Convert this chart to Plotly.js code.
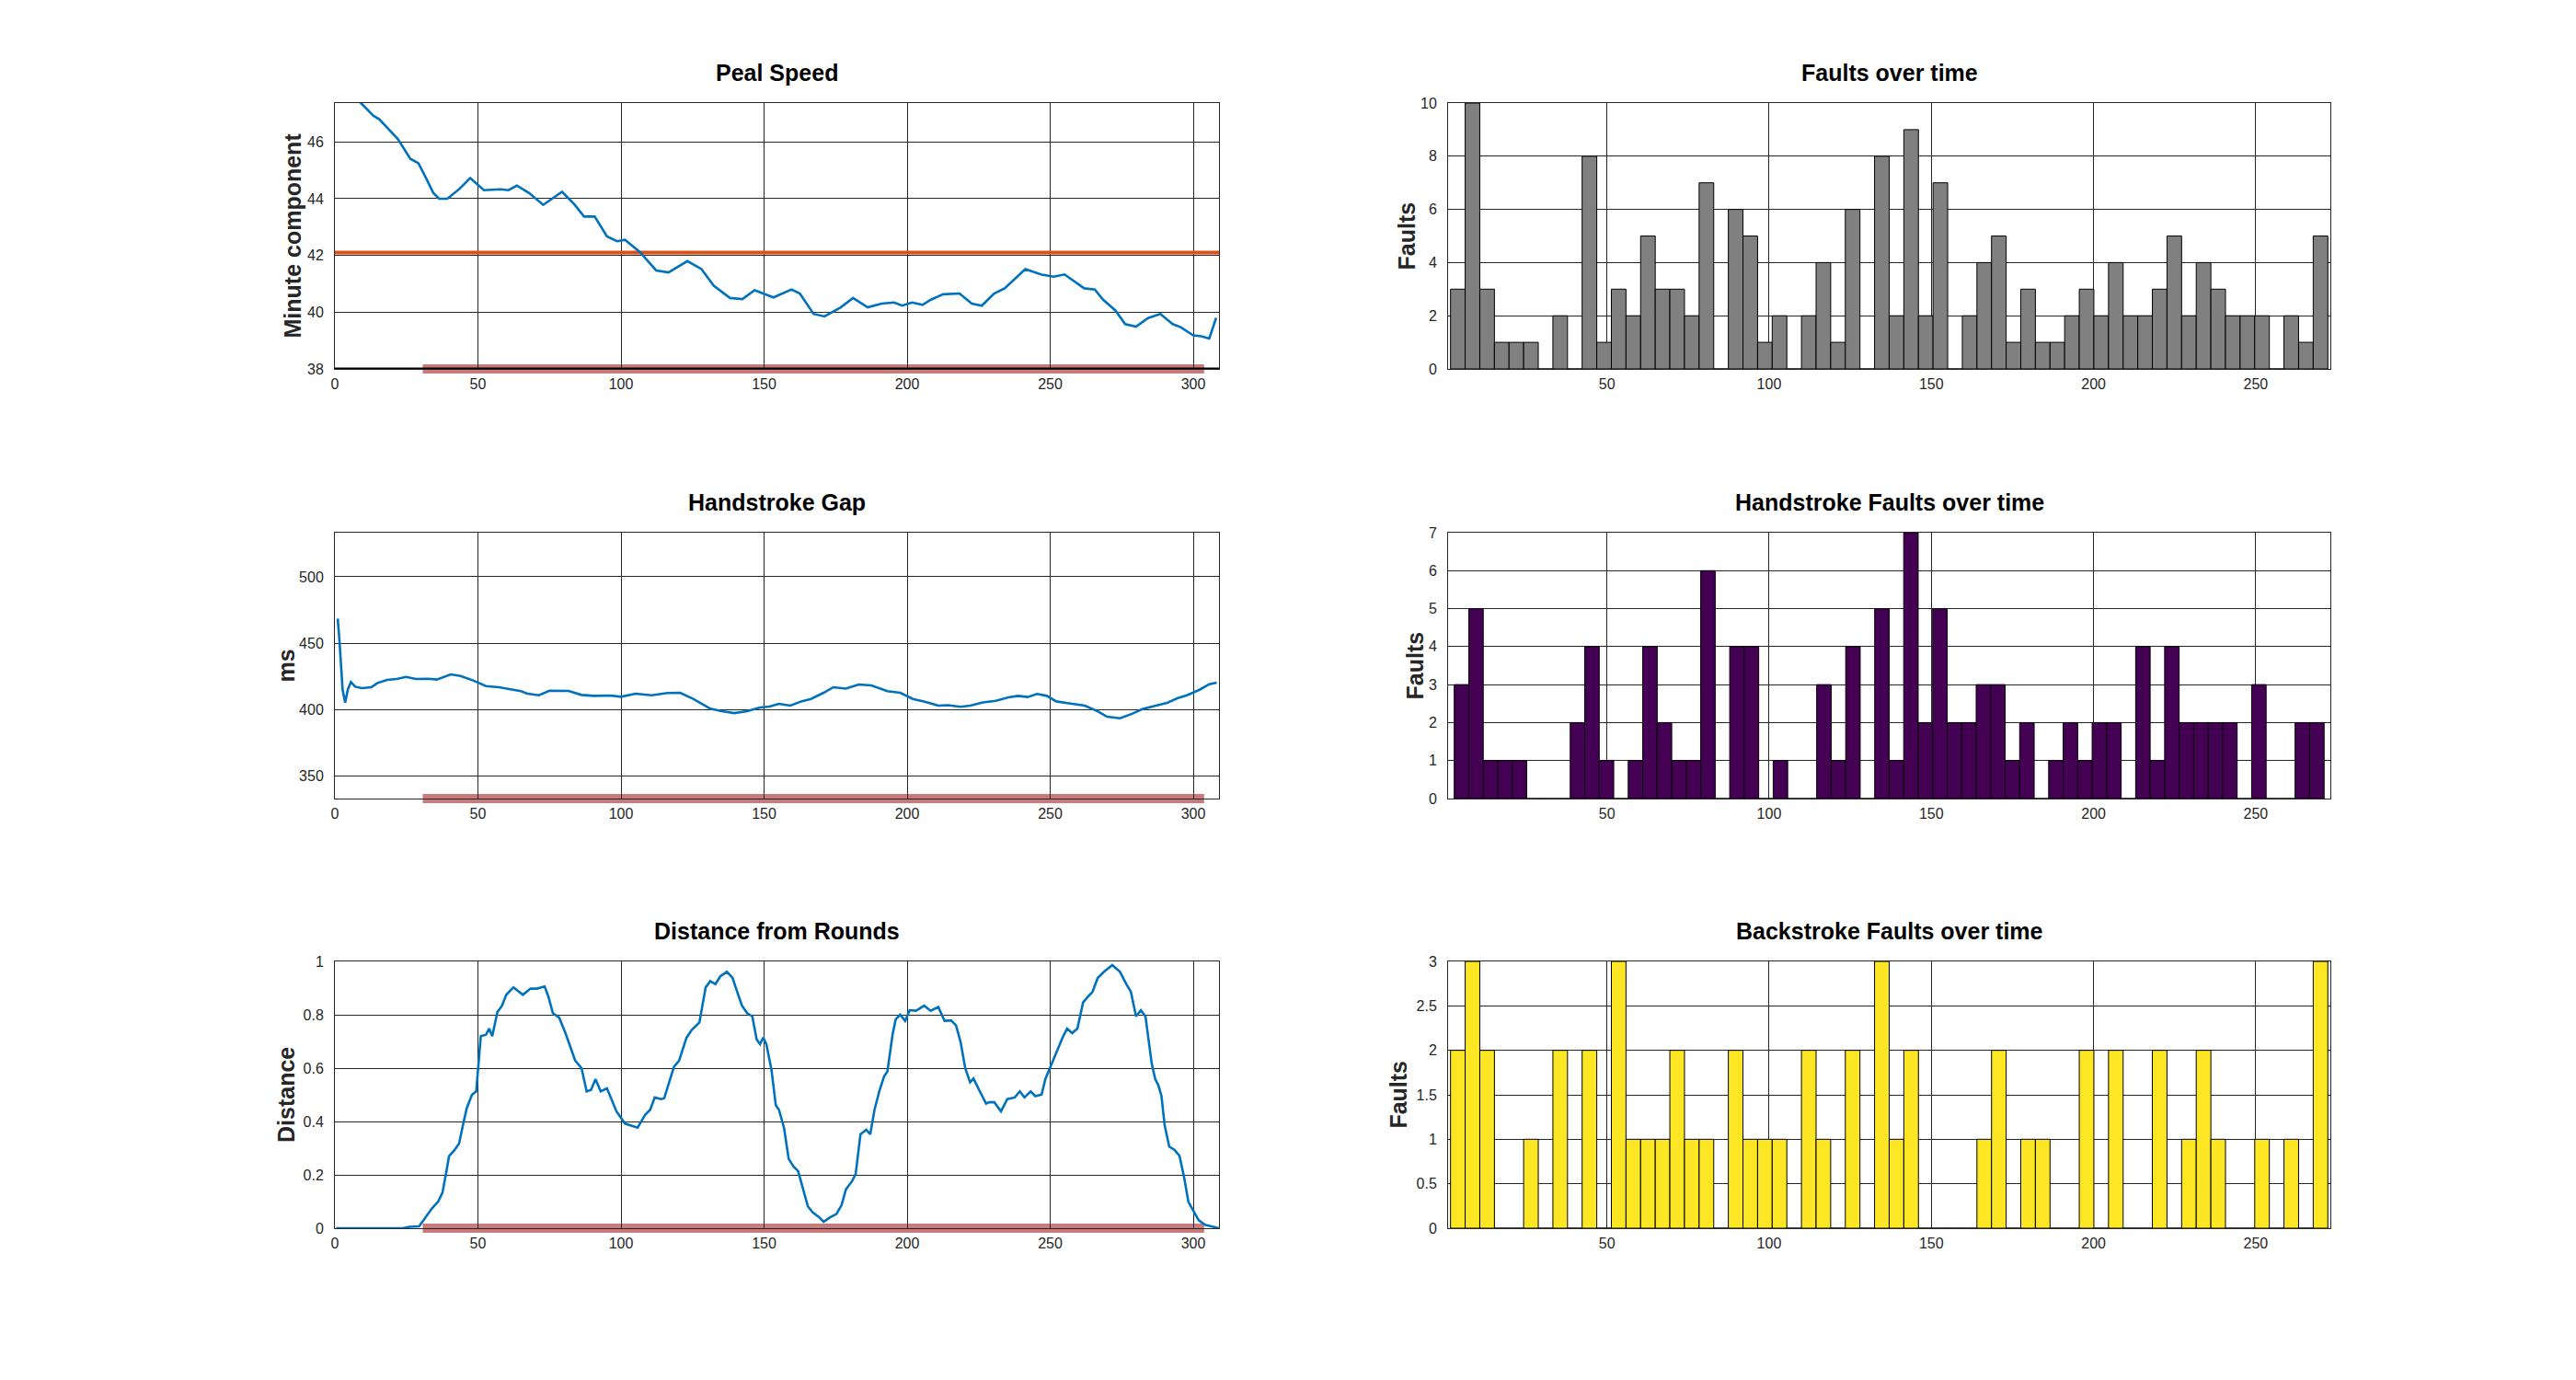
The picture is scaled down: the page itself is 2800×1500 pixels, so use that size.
<!DOCTYPE html>
<html>
<head>
<meta charset="utf-8">
<script src="https://cdn.plot.ly/plotly-3.0.1.min.js"></script>
<style>
html,body{margin:0;padding:0;background:#fff;}
#chart{width:2800px;height:1500px;}
</style>
</head>
<body>
<div id="chart"></div>
<script>
// ---------- Data ----------
const pealX = [1, 9.2, 13.5, 15.5, 22, 26.4, 29.2, 32, 34.4, 36.4,
  39.3, 43.6, 47.3, 52.1, 57.9, 60.7, 63.6, 67.9, 72.8, 79.4,
  83.7, 87.1, 90.8, 95.1, 98.6, 101.4, 106.6, 112.3, 116.6, 123.2,
  128.1, 132.4, 138.1, 142.4, 146.7, 153.3, 159.6, 162.5, 167.3, 171.1,
  176.8, 181.1, 186.2, 191.1, 195.4, 198.3, 201.7, 205.4, 208.3, 212.6,
  218.3, 222.6, 226.1, 230.4, 234.1, 241.3, 247, 251.3, 255, 261.9,
  265.6, 268.5, 272.8, 276.2, 280, 284.2, 288.5, 292.8, 295.6, 300,
  302.8, 305.6, 308];
const pealY = [48.2, 47.35, 46.92, 46.8, 46.1, 45.4, 45.25, 44.7, 44.2, 44.0,
  44.0, 44.35, 44.73, 44.3, 44.33, 44.3, 44.46, 44.2, 43.78, 44.24,
  43.8, 43.37, 43.37, 42.67, 42.5, 42.55, 42.12, 41.47, 41.4, 41.8,
  41.52, 40.93, 40.5, 40.46, 40.77, 40.52, 40.8, 40.66, 39.94, 39.85,
  40.17, 40.5, 40.17, 40.3, 40.34, 40.23, 40.34, 40.26, 40.44, 40.63,
  40.66, 40.3, 40.23, 40.66, 40.84, 41.52, 41.32, 41.25, 41.33, 40.84,
  40.8, 40.44, 40.06, 39.58, 39.49, 39.79, 39.94, 39.58, 39.47, 39.18,
  39.15, 39.07, 39.8];
const pealTarget = 42.1;
const pealBase = 38;

const handX = [1, 1.6, 2.7, 3.6, 4.5, 5.6, 7.1, 9.4, 12.7, 14.9,
  18.3, 21.6, 24.9, 28.3, 32.7, 35.6, 40.5, 43.9, 48.3, 52.8,
  57.4, 61.7, 65, 67.3, 71.3, 75, 81.7, 86.2, 90.6, 96.2,
  100, 105.1, 110.7, 116.3, 120.7, 125.2, 131.2, 135.2, 139.6, 144.1,
  148.6, 151.9, 155.2, 159.2, 163, 166.4, 170.8, 174.2, 178.6, 183.1,
  187.5, 193.1, 197.6, 202, 206.5, 210.9, 214.2, 218.7, 222, 226.5,
  231, 235.4, 238.8, 242.1, 245.4, 248.8, 252.1, 256.6, 262.1, 266.6,
  269.9, 274.4, 278.8, 282.2, 286.6, 291.1, 294.4, 297.8, 302.2, 305.6,
  308.2];
const handY = [468.5, 451.9, 414.8, 405.1, 414.8, 420.6, 417.1, 416, 416.7, 419.9,
  422.2, 422.9, 424.5, 422.9, 423.1, 422.5, 426.4, 425.2, 421.8, 417.6,
  416.7, 414.8, 413.7, 411.8, 410.6, 414.1, 413.9, 410.9, 410.2, 410.4,
  409.5, 411.8, 410.6, 412.3, 412.5, 407.9, 400.5, 398.6, 397.2, 398.6,
  401.4, 402.1, 404.2, 402.8, 406, 407.9, 412.5, 416.7, 415.7, 418.8,
  418.1, 413.7, 412.5, 407.9, 405.6, 402.8, 403.2, 401.9, 402.8, 405.3,
  406.5, 409, 410.2, 409.3, 411.6, 410.2, 406, 404.6, 402.8, 398.6,
  394.4, 393.3, 396.8, 400.2, 402.8, 405.1, 408.3, 410.6, 414.8, 419,
  420.1];

const distX = [0.4, 23.8, 26, 29.4, 31, 33.9, 36.1, 37.6, 39, 39.9,
  41.6, 43.4, 45, 46.1, 47.9, 49.4, 51, 52.8, 53.9, 55,
  56.8, 58.4, 59.9, 62.4, 65.7, 68.4, 70.6, 73.3, 74.6, 76.2,
  78.4, 80.6, 84, 86.2, 88, 89.5, 91.1, 92.9, 95.1, 96.9,
  98.4, 101.4, 104, 105.8, 108.5, 110.2, 111.8, 114, 115.1, 118.5,
  120.3, 122.9, 124.7, 126.3, 127.4, 129.6, 131.2, 133, 134.7, 137,
  139, 140.8, 142.3, 144.1, 145.9, 147.4, 148.6, 149.7, 150.8, 152.6,
  154.1, 155.2, 157, 158.6, 160.3, 161.9, 163.7, 165.3, 167, 169.3,
  170.8, 173.1, 175.3, 177.1, 178.6, 180.8, 182, 183.7, 185.7, 187.1,
  188.6, 190.4, 192, 193.1, 194.9, 196, 197.6, 199.3, 200.9, 203.1,
  206, 208.2, 210.9, 213.1, 215.4, 217.1, 218.7, 220.3, 222, 223.2,
  225.4, 227.6, 228.7, 230.5, 232.8, 235, 237.6, 239.4, 241, 243.2,
  244.8, 247, 248.3, 249.9, 252.1, 254.3, 255.9, 257.7, 259.5, 261.5,
  263.3, 264.8, 266.6, 268.8, 271.7, 274.4, 276.6, 278.2, 280, 281.7,
  283.3, 284.4, 285.5, 286.7, 287.8, 288.9, 290, 291.6, 293.4, 295.2,
  296.8, 298.3, 300.1, 301.9, 304.1, 306.7, 308.9];
const distY = [0, 0, 0.005, 0.007, 0.03, 0.074, 0.1, 0.133, 0.214, 0.27,
  0.29, 0.317, 0.398, 0.45, 0.5, 0.513, 0.72, 0.725, 0.748, 0.72,
  0.81, 0.834, 0.875, 0.903, 0.875, 0.898, 0.898, 0.906, 0.869, 0.806,
  0.789, 0.731, 0.628, 0.6, 0.513, 0.518, 0.559, 0.513, 0.524, 0.478,
  0.438, 0.392, 0.384, 0.377, 0.426, 0.444, 0.49, 0.484, 0.487, 0.605,
  0.628, 0.714, 0.743, 0.76, 0.771, 0.903, 0.926, 0.915, 0.944, 0.961,
  0.938, 0.88, 0.834, 0.806, 0.794, 0.708, 0.69, 0.714, 0.69, 0.593,
  0.461, 0.444, 0.375, 0.26, 0.231, 0.214, 0.145, 0.082, 0.059, 0.041,
  0.024, 0.041, 0.053, 0.087, 0.145, 0.177, 0.202, 0.352, 0.369, 0.352,
  0.444, 0.518, 0.57, 0.587, 0.725, 0.783, 0.8, 0.777, 0.817, 0.815,
  0.834, 0.815, 0.829, 0.777, 0.779, 0.76, 0.697, 0.6, 0.547, 0.561,
  0.513, 0.467, 0.472, 0.472, 0.438, 0.484, 0.49, 0.513, 0.49, 0.513,
  0.495, 0.501, 0.559, 0.6, 0.662, 0.714, 0.748, 0.731, 0.748, 0.846,
  0.869, 0.886, 0.938, 0.961, 0.986, 0.961, 0.915, 0.886, 0.794, 0.817,
  0.794, 0.708, 0.616, 0.559, 0.536, 0.495, 0.386, 0.306, 0.294, 0.271,
  0.191, 0.099, 0.064, 0.03, 0.013, 0.005, 0];

// highlighted span shown as a band on the x axis of the line plots
const bandRange = [30.7, 303.8];

// histogram counts (60 bins each)
const faultCounts = [3, 10, 3, 1, 1, 1, 0, 2, 0, 8,
  1, 3, 2, 5, 3, 3, 2, 7, 0, 6,
  5, 1, 2, 0, 2, 4, 1, 6, 0, 8,
  2, 9, 2, 7, 0, 2, 4, 5, 1, 3,
  1, 1, 2, 3, 2, 4, 2, 2, 3, 5,
  2, 4, 3, 2, 2, 2, 0, 2, 1, 5];
const handFaultCounts = [3, 5, 1, 1, 1, 0, 0, 0, 2, 4,
  1, 0, 1, 4, 2, 1, 1, 6, 0, 4,
  4, 0, 1, 0, 0, 3, 1, 4, 0, 5,
  1, 7, 2, 5, 2, 2, 3, 3, 1, 2,
  0, 1, 2, 1, 2, 2, 0, 4, 1, 4,
  2, 2, 2, 2, 0, 3, 0, 0, 2, 2];
const backFaultCounts = [2, 3, 2, 0, 0, 1, 0, 2, 0, 2,
  0, 3, 1, 1, 1, 2, 1, 1, 0, 2,
  1, 1, 1, 0, 2, 1, 0, 2, 0, 3,
  1, 2, 0, 0, 0, 0, 1, 2, 0, 1,
  1, 0, 0, 2, 0, 2, 0, 0, 2, 0,
  1, 2, 1, 0, 0, 1, 0, 1, 0, 3];
// histogram bin edges (first edge, bin width)
const faultBins = {start: 1.80, width: 4.507};
const handBins = {start: 2.94, width: 4.469};

// tick labels
const lineXTicks = [0, 50, 100, 150, 200, 250, 300];
const barXTicks = [50, 100, 150, 200, 250];
const pealYTicks = [38, 40, 42, 44, 46];
const handYTicks = [350, 400, 450, 500];
const distYTicks = [0, 0.2, 0.4, 0.6, 0.8, 1];
const faultYTicks = [0, 2, 4, 6, 8, 10];
const handFaultYTicks = [0, 1, 2, 3, 4, 5, 6, 7];
const backFaultYTicks = [0, 0.5, 1, 1.5, 2, 2.5, 3];

const titles = ['Peal Speed', 'Faults over time', 'Handstroke Gap',
  'Handstroke Faults over time', 'Distance from Rounds', 'Backstroke Faults over time'];
const yLabels = ['Minute component', 'Faults', 'ms', 'Faults', 'Distance', 'Faults'];

// ---------- Helpers ----------
function binCenters(bins, n) {
  const c = [];
  for (let i = 0; i < n; i++) c.push(bins.start + bins.width * (i + 0.5));
  return c;
}

const W = 2800, H = 1500;
const colL = [364 / W, 1325 / W];
const colR = [1574 / W, 2533 / W];
const rows = [[1 - 401 / H, 1 - 112 / H], [1 - 868 / H, 1 - 579 / H], [1 - 1335 / H, 1 - 1045 / H]];

const FONT = 'Liberation Sans, Arial, Helvetica, sans-serif';
const dark = '#262626';
const blue = '#0072BD';

const axBase = {
  showline: true, mirror: true, linecolor: dark, linewidth: 1,
  showgrid: true, gridcolor: dark, gridwidth: 1,
  zeroline: false, ticks: '',
  tickfont: {family: FONT, size: 16, color: dark},
  fixedrange: true
};
const xBase = Object.assign({}, axBase, {ticklabelstandoff: 2});
const yBase = Object.assign({}, axBase, {ticklabelstandoff: 8});
const lineXRange = [0, 309];
const barXRange = [1.04, 273];

// ---------- Traces ----------
const traces = [
  {type: 'scatter', mode: 'lines', x: lineXRange, y: [pealBase, pealBase], xaxis: 'x', yaxis: 'y',
   line: {color: '#000', width: 3}, hoverinfo: 'skip'},
  {type: 'scatter', mode: 'lines', x: lineXRange, y: [pealTarget, pealTarget], xaxis: 'x', yaxis: 'y',
   line: {color: '#D95319', width: 4}},
  {type: 'scatter', mode: 'lines', x: pealX, y: pealY, xaxis: 'x', yaxis: 'y',
   line: {color: blue, width: 2.6}},
  {type: 'bar', x: binCenters(faultBins, faultCounts.length), y: faultCounts, width: faultBins.width,
   xaxis: 'x2', yaxis: 'y2', marker: {color: '#808080', line: {color: '#000', width: 1}}},
  {type: 'scatter', mode: 'lines', x: handX, y: handY, xaxis: 'x3', yaxis: 'y3',
   line: {color: blue, width: 2.6}},
  {type: 'bar', x: binCenters(handBins, handFaultCounts.length), y: handFaultCounts, width: handBins.width,
   xaxis: 'x4', yaxis: 'y4', marker: {color: '#440154', line: {color: '#000', width: 1}}},
  {type: 'scatter', mode: 'lines', x: distX, y: distY, xaxis: 'x5', yaxis: 'y5',
   line: {color: blue, width: 2.6}},
  {type: 'bar', x: binCenters(faultBins, backFaultCounts.length), y: backFaultCounts, width: faultBins.width,
   xaxis: 'x6', yaxis: 'y6', marker: {color: '#FDE725', line: {color: '#000', width: 1}}}
];

// ---------- Layout ----------
const layout = {
  width: W, height: H,
  margin: {l: 0, r: 0, t: 0, b: 0, pad: 0},
  paper_bgcolor: '#ffffff', plot_bgcolor: '#ffffff',
  showlegend: false, bargap: 0,
  xaxis:  Object.assign({}, xBase, {domain: colL, anchor: 'y',  range: lineXRange, tickvals: lineXTicks}),
  yaxis:  Object.assign({}, yBase, {domain: rows[0], anchor: 'x',  range: [38, 47.37], tickvals: pealYTicks}),
  xaxis2: Object.assign({}, xBase, {domain: colR, anchor: 'y2', range: barXRange, tickvals: barXTicks}),
  yaxis2: Object.assign({}, yBase, {domain: rows[0], anchor: 'x2', range: [0, 10], tickvals: faultYTicks}),
  xaxis3: Object.assign({}, xBase, {domain: colL, anchor: 'y3', range: lineXRange, tickvals: lineXTicks}),
  yaxis3: Object.assign({}, yBase, {domain: rows[1], anchor: 'x3', range: [332.7, 533.3], tickvals: handYTicks}),
  xaxis4: Object.assign({}, xBase, {domain: colR, anchor: 'y4', range: barXRange, tickvals: barXTicks}),
  yaxis4: Object.assign({}, yBase, {domain: rows[1], anchor: 'x4', range: [0, 7], tickvals: handFaultYTicks}),
  xaxis5: Object.assign({}, xBase, {domain: colL, anchor: 'y5', range: lineXRange, tickvals: lineXTicks}),
  yaxis5: Object.assign({}, yBase, {domain: rows[2], anchor: 'x5', range: [0, 1], tickvals: distYTicks}),
  xaxis6: Object.assign({}, xBase, {domain: colR, anchor: 'y6', range: barXRange, tickvals: barXTicks}),
  yaxis6: Object.assign({}, yBase, {domain: rows[2], anchor: 'x6', range: [0, 3], tickvals: backFaultYTicks}),
  shapes: [],
  annotations: []
};

// band along bottom of each line plot
[['x', 'y domain'], ['x3', 'y3 domain'], ['x5', 'y5 domain']].forEach(([xr, yr]) => {
  layout.shapes.push({type: 'line', xref: xr, yref: yr, x0: bandRange[0], x1: bandRange[1], y0: 0, y1: 0,
    layer: 'below', line: {color: '#C97B7B', width: 10}});
});

// titles and y labels
const titleFont = {family: FONT, size: 25, color: '#000', weight: 'bold'};
const titleY = [78.6, 545.6, 1011.6];
const labelX = [[317, 1528], [311, 1538], [311, 1519.6]];
for (let r = 0; r < 3; r++) {
  for (let c = 0; c < 2; c++) {
    const dom = c === 0 ? colL : colR;
    layout.annotations.push({
      text: titles[r * 2 + c], xref: 'paper', yref: 'paper',
      x: (dom[0] + dom[1]) / 2, y: 1 - titleY[r] / H,
      xanchor: 'center', yanchor: 'middle', showarrow: false, font: titleFont
    });
    layout.annotations.push({
      text: yLabels[r * 2 + c], xref: 'paper', yref: 'paper',
      x: labelX[r][c] / W, y: (rows[r][0] + rows[r][1]) / 2,
      xanchor: 'center', yanchor: 'middle', textangle: -90, showarrow: false,
      font: {family: FONT, size: 25, color: dark, weight: 'bold'}
    });
  }
}

Plotly.newPlot('chart', traces, layout, {staticPlot: true, displayModeBar: false});
</script>
</body>
</html>
